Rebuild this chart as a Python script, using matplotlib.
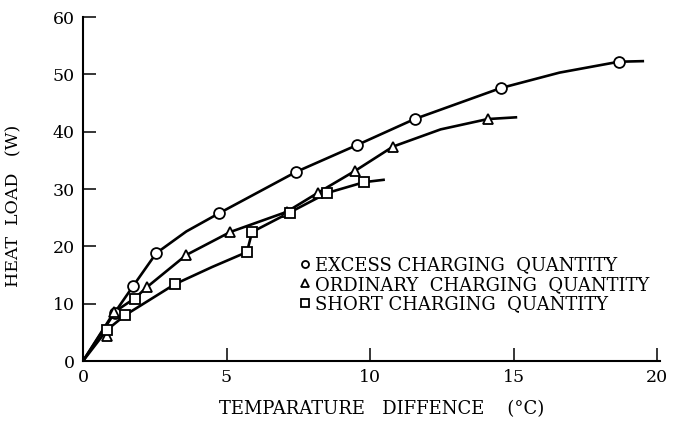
import matplotlib
matplotlib.use("Agg")
import matplotlib.pyplot as plt

plt.rcParams['font.family'] = ['DejaVu Serif']

excess_x = [1.1, 1.75, 2.55, 4.75, 7.43, 9.56, 11.55, 14.55, 18.67]
excess_y = [8.4, 13.1, 18.8, 25.8, 33.0, 37.7, 42.2, 47.6, 52.2]
ordinary_x = [0.84, 1.08, 2.23, 3.6, 5.13, 7.09, 8.17, 9.49, 10.8, 14.1]
ordinary_y = [4.4, 8.5, 12.9, 18.5, 22.5, 26.0, 29.3, 33.2, 37.4, 42.2]
short_x = [0.83, 1.47, 1.82, 3.2, 5.71, 5.89, 7.2, 8.5, 9.8]
short_y = [5.4, 8.0, 10.9, 13.4, 19.0, 22.5, 25.9, 29.3, 31.2]

# hand-drawn fitting curves (vertices)
excess_curve_x = [0, 1.1, 1.75, 2.55, 3.6, 4.75, 7.43, 9.56, 11.55, 14.55, 16.6, 18.67, 19.5]
excess_curve_y = [0, 8.4, 13.1, 18.8, 22.6, 25.8, 33.0, 37.7, 42.2, 47.6, 50.3, 52.2, 52.3]
ordinary_curve_x = [0, 1.08, 1.82, 2.23, 3.6, 5.13, 7.09, 8.17, 9.49, 10.8, 12.46, 14.1, 15.08]
ordinary_curve_y = [0, 8.5, 11.0, 12.9, 18.5, 22.5, 26.0, 29.3, 33.2, 37.4, 40.4, 42.2, 42.5]
short_curve_x = [0, 0.83, 1.47, 3.2, 4.5, 5.71, 5.89, 7.2, 8.5, 9.8, 10.47]
short_curve_y = [0, 5.4, 8.0, 13.4, 16.4, 19.0, 22.5, 25.9, 29.3, 31.2, 31.6]

labels = ['EXCESS CHARGING  QUANTITY',
          'ORDINARY  CHARGING  QUANTITY',
          'SHORT CHARGING  QUANTITY']

fig = plt.figure(figsize=(6.73, 4.21), dpi=100)
ax = fig.add_axes([83/673, 1-361/421, (660-83)/673, (361-17)/421])

lw = 1.9
ax.plot(excess_curve_x, excess_curve_y, color='black', lw=lw, zorder=2)
ax.plot(ordinary_curve_x, ordinary_curve_y, color='black', lw=lw, zorder=2)
ax.plot(short_curve_x, short_curve_y, color='black', lw=lw, zorder=2)

mk = dict(linestyle='none', mfc='white', mec='black', mew=1.3, zorder=3)
h1, = ax.plot(excess_x, excess_y, marker='o', ms=7.8, **mk)
h2, = ax.plot(ordinary_x, ordinary_y, marker='^', ms=7.8, **mk)
h3, = ax.plot(short_x, short_y, marker='s', ms=7.8, **mk)

leg = ax.legend([h1, h2, h3], labels, loc='upper left',
                bbox_to_anchor=(300/673, 1-256/421), bbox_transform=fig.transFigure,
                frameon=False, fontsize=13, markerscale=0.65, handlelength=0.6,
                handletextpad=0.25, labelspacing=0.1, borderpad=0, borderaxespad=0)

ax.set_xlim(0, 20.1)
ax.set_ylim(0, 60)
ax.set_xticks([0, 5, 10, 15, 20])
ax.set_yticks([0, 10, 20, 30, 40, 50, 60])
for s in ['top', 'right']:
    ax.spines[s].set_visible(False)
for s in ['left', 'bottom']:
    ax.spines[s].set_linewidth(1.5)
ax.tick_params(direction='in', length=9.5, width=1.1, labelsize=12.5, pad=6)

ax.set_xlabel('TEMPARATURE   DIFFENCE    (\u00b0C)', fontsize=13)
ax.xaxis.set_label_coords((382-83)/577, -0.113)
ax.set_ylabel('HEAT  LOAD   (W)', fontsize=12.5)
ax.yaxis.set_label_coords(-0.105, 0.45)

fig.savefig('out.png', dpi=100)
